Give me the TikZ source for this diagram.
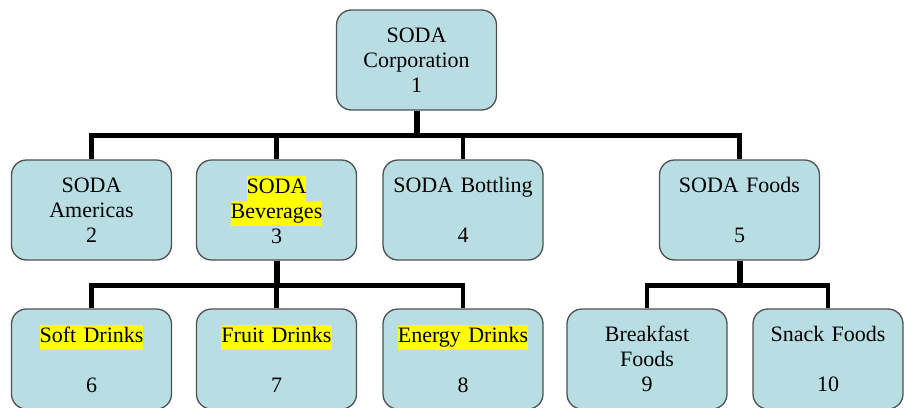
\documentclass[tikz,border=0pt]{standalone}
\usepackage{fontspec}
\setmainfont{Liberation Serif}
\usepackage{tikz}
\usetikzlibrary{positioning, calc}
\definecolor{boxFill}{RGB}{184,222,228}
\definecolor{boxEdge}{RGB}{80,80,80}
\definecolor{hiYellow}{RGB}{255,255,0}
\newcommand{\hlt}[1]{{\setlength{\fboxsep}{0pt}\colorbox{hiYellow}{\strut #1}}}

\begin{document}
\begin{tikzpicture}[x=1pt, y=1pt,
        unitbox/.style={rectangle, draw=boxEdge, line width=1.3pt, fill=boxFill, rounded corners=15pt, minimum width=160pt, minimum height=100pt, text width=156pt, align=center, inner sep=0pt, font=\fontsize{22}{25}\selectfont},
        link/.style={line width=4.5pt, black},
        trunk/.style={line width=6pt, black},
    ]
    \useasboundingbox (0,0) rectangle (905,-407);
    \clip (0,0) rectangle (905,-407);
    % top level
    \node[unitbox] at (416.5,-60) (corp) {SODA\\Corporation\\1};
    % divisions
    \node[unitbox] at (91.5,-210) (americas) {SODA\\Americas\\2};
    \node[unitbox] at (276.5,-210) (bev) {\hlt{SODA}\\\hlt{Beverages}\\3};
    \node[unitbox] at (463,-210) (bottling) {SODA Bottling\\~\\4};
    \node[unitbox] at (739.5,-210) (foods) {SODA Foods\\~\\5};
    % products
    \node[unitbox] at (91.5,-359) (soft) {\hlt{Soft Drinks}\\~\\6};
    \node[unitbox] at (276.5,-359) (fruit) {\hlt{Fruit Drinks}\\~\\7};
    \node[unitbox] at (463,-359) (energy) {\hlt{Energy Drinks}\\~\\8};
    \node[unitbox] at (647,-359) (breakfast) {Breakfast\\Foods\\9};
    \node[unitbox, minimum width=150pt, text width=146pt] at (828,-359) (snack) {Snack Foods\\~\\10};
    % connectors
    \draw[trunk] (corp.south) -- ++(0,-25) coordinate (bus1);
    \foreach \n in {americas, bev, bottling, foods}
        \draw[link] (bus1) -| (\n.north);
    \draw[trunk] (bev.south) -- ++(0,-25) coordinate (bus2);
    \foreach \n in {soft, fruit, energy}
        \draw[link] (bus2) -| (\n.north);
    \draw[trunk] (foods.south) -- ++(0,-25) coordinate (bus3);
    \foreach \n in {breakfast, snack}
        \draw[link] (bus3) -| (\n.north);
\end{tikzpicture}
\end{document}
